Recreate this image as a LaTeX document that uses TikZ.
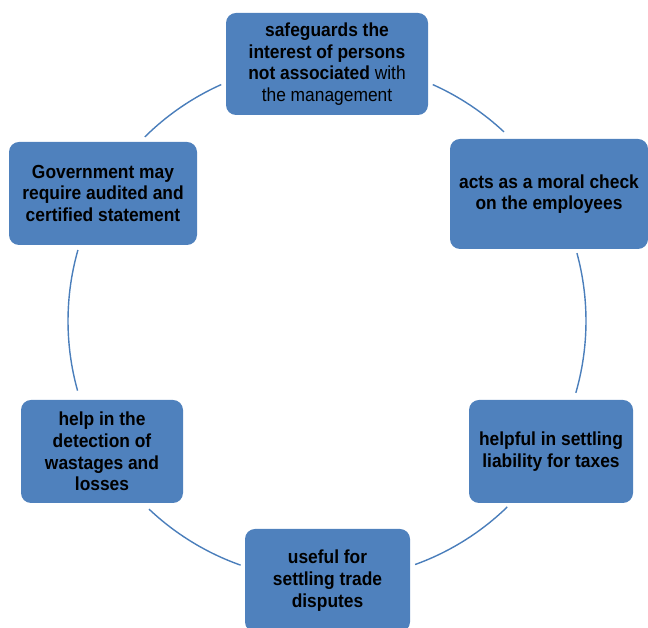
\documentclass[tikz,border=0pt]{standalone}
\usepackage{fontspec}
\setmainfont[FakeStretch=0.92]{Liberation Sans}
\definecolor{boxblue}{HTML}{4F81BD}
\definecolor{arcblue}{HTML}{4A7EBB}
\tikzset{
  box/.style={rectangle, rounded corners=10pt, fill=boxblue, draw=none, inner sep=0pt,
    align=center, font=\fontsize{18.9}{21.7}\selectfont\bfseries, text=black},
  ring/.style={draw=arcblue, line width=1.4pt}
}
\begin{document}
\begin{tikzpicture}[x=1pt,y=1pt]
\useasboundingbox (0,0) rectangle (648,628);
\coordinate (c) at (327,307);
\def\R{259}
\foreach \a/\b in {134.7/114.1, 65.9/46.9, 15.2/-16.1, -45.9/-70.1, -109.5/-133.4, 195.6/164.1}{
  \draw[ring] ([shift={(\a:\R)}]c) arc[start angle=\a, end angle=\b, radius=\R];
}
\node[box, minimum width=202pt, minimum height=102pt] (top) at (327,564)
  {safeguards the\\interest of persons\\not associated \mdseries with\\\mdseries the management};
\node[box, minimum width=198pt, minimum height=110pt] (tr) at (549,434)
  {acts as a moral check\\on the employees};
\node[box, minimum width=188pt, minimum height=103pt] (tl) at (103,434.5)
  {Government may\\require audited and\\certified statement};
\node[box, minimum width=162pt, minimum height=103pt] (bl) at (102,176.5)
  {help in the\\detection of\\wastages and\\losses};
\node[box, minimum width=164pt, minimum height=103pt] (br) at (551,176.5)
  {helpful in settling\\liability for taxes};
\node[box, minimum width=165pt, minimum height=103pt] (bot) at (327.5,47.5)
  {useful for\\settling trade\\disputes};
\end{tikzpicture}
\end{document}
